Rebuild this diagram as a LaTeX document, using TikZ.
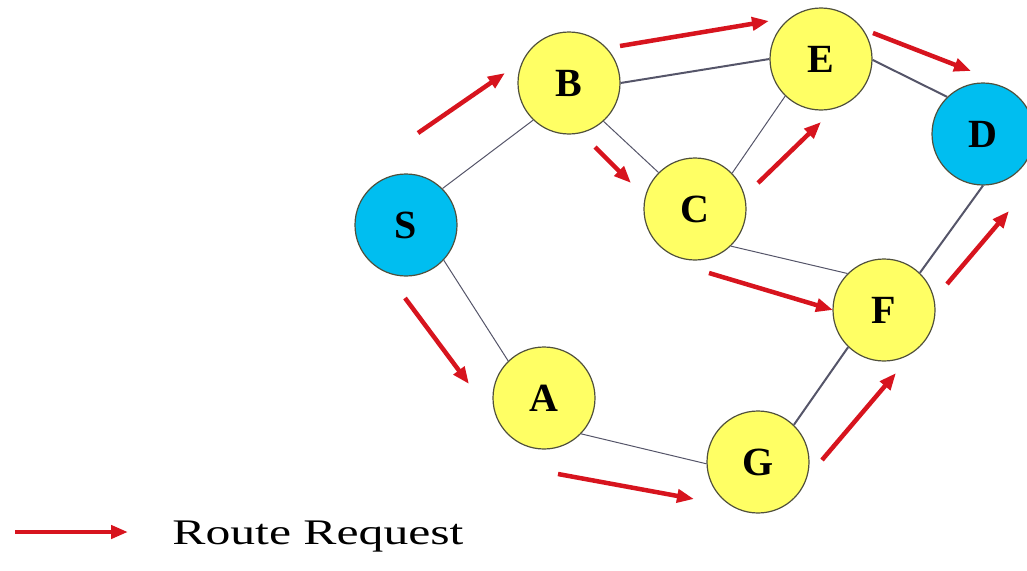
\documentclass[tikz,border=0pt]{standalone}
\usepackage{fontspec}
\setmainfont{Liberation Serif}
\newfontfamily\legendfont[FakeStretch=1.38]{Liberation Serif}
\usetikzlibrary{arrows.meta}
\definecolor{nodeyellow}{RGB}{255,255,100}
\definecolor{nodecyan}{RGB}{0,190,240}
\definecolor{rimgray}{RGB}{80,80,60}
\definecolor{linkgray}{RGB}{85,85,105}
\definecolor{reqred}{RGB}{215,20,30}

\begin{document}
\begin{tikzpicture}
[every node/.style={inner sep=0pt},
 station/.style={circle, minimum size=102pt, line width=1.2pt, draw=rimgray, font=\fontsize{40}{40}\selectfont\bfseries},
 link/.style={line width=1pt, color=linkgray},
 mainlink/.style={line width=2pt, color=linkgray},
 request/.style={line width=4.5pt, color=reqred, -{Triangle[length=17pt, width=13pt]}}]
\useasboundingbox (0pt, 0pt) rectangle (1027pt, -570pt);
\node (S) [station, fill=nodecyan] at (406pt, -225pt) {S};
\node (B) [station, fill=nodeyellow] at (569pt, -83pt) {B};
\node (E) [station, fill=nodeyellow] at (821pt, -59pt) {E};
\node (D) [station, fill=nodecyan] at (983pt, -134pt) {D};
\node (C) [station, fill=nodeyellow] at (695pt, -209pt) {C};
\node (F) [station, fill=nodeyellow] at (884pt, -310pt) {F};
\node (A) [station, fill=nodeyellow] at (544pt, -398pt) {A};
\node (G) [station, fill=nodeyellow] at (758pt, -462pt) {G};
\node (legend) [font=\legendfont\fontsize{36}{36}\selectfont] at (318pt, -537pt) {Route Request};
\draw [link] (S.45) -- (B.226);
\draw [link] (S.-43) -- (A.134);
\draw [link] (B.-48) -- (C.135);
\draw [link] (C.44) -- (E.226);
\draw [link] (C.-46) -- (F.135);
\draw [link] (A.-44) -- (G.182);
\draw [mainlink] (B.0) -- (E.180);
\draw [mainlink] (E.-1) -- (D.134);
\draw [mainlink] (F.46) -- (D.-90);
\draw [mainlink] (G.46) -- (F.226);
% route request arrows
\coordinate (sb0) at (418pt, -133pt);
\coordinate (sb1) at (505pt, -73pt);
\coordinate (bc0) at (595pt, -147pt);
\coordinate (bc1) at (631pt, -183pt);
\coordinate (be0) at (620pt, -46pt);
\coordinate (be1) at (769pt, -21pt);
\coordinate (ed0) at (873pt, -33pt);
\coordinate (ed1) at (971pt, -71pt);
\coordinate (ce0) at (758pt, -183pt);
\coordinate (ce1) at (821pt, -122pt);
\coordinate (cf0) at (709pt, -273pt);
\coordinate (cf1) at (833pt, -310pt);
\coordinate (fd0) at (947pt, -284pt);
\coordinate (fd1) at (1009pt, -211pt);
\coordinate (gf0) at (822pt, -460pt);
\coordinate (gf1) at (896pt, -373pt);
\coordinate (sa0) at (405pt, -298pt);
\coordinate (sa1) at (469pt, -384pt);
\coordinate (ag0) at (558pt, -474pt);
\coordinate (ag1) at (694pt, -499pt);
\coordinate (key0) at (15pt, -532pt);
\coordinate (key1) at (128pt, -532pt);
\draw [request] (sb0) -- (sb1);
\draw [request] (bc0) -- (bc1);
\draw [request] (be0) -- (be1);
\draw [request] (ed0) -- (ed1);
\draw [request] (ce0) -- (ce1);
\draw [request] (cf0) -- (cf1);
\draw [request] (fd0) -- (fd1);
\draw [request] (gf0) -- (gf1);
\draw [request] (sa0) -- (sa1);
\draw [request] (ag0) -- (ag1);
\draw [request] (key0) -- (key1);
\end{tikzpicture}
\end{document}
